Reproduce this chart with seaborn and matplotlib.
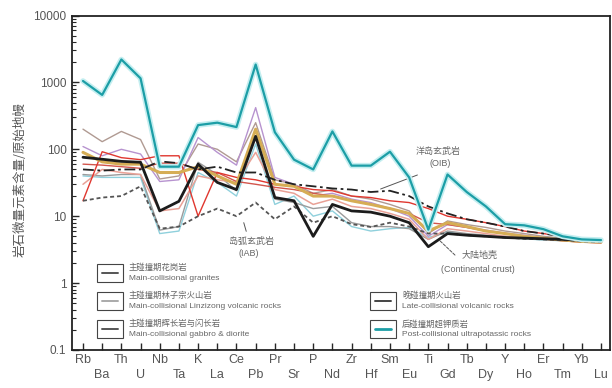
import numpy as np
import pandas as pd
import matplotlib
matplotlib.use("Agg")
import matplotlib.pyplot as plt
import seaborn as sns
from matplotlib.patches import Rectangle
from matplotlib.lines import Line2D

# Primitive-mantle normalised trace-element patterns
elements = ["Rb", "Ba", "Th", "U", "Nb", "Ta", "K", "La", "Ce", "Pb", "Pr", "Sr", "P", "Nd",
            "Zr", "Hf", "Sm", "Eu", "Ti", "Gd", "Tb", "Dy", "Y", "Ho", "Er", "Tm", "Yb", "Lu"]

post_collisional = [1050, 650, 2200, 1150, 55, 55, 230, 250, 215, 1850, 180, 70, 50, 185,
                    57, 57, 92, 38, 6.3, 42, 23, 14, 7.6, 7.3, 6.4, 5.0, 4.5, 4.4]
post_collisional_low = [40, 38, 38, 38, 5.5, 6, 45, 32, 20, 120, 15, 20, 10, 12,
                        7, 6, 6.5, 6.8, 4.8, 5.8, 5.2, 5.0, 4.8, 4.6, 4.4, 4.3, 4.2, 4.1]
continental_crust = [76, 71, 66, 64, 12, 16.7, 60, 32, 25, 156, 19, 17, 5, 15,
                     12, 11.5, 10, 8, 3.5, 5.5, 5.2, 5.0, 4.8, 4.7, 4.6, 4.5, 4.4, 4.3]
oib = [50, 48, 50, 50, 66, 62, 50, 55, 45, 45, 35, 30, 28, 26,
       25, 23, 24, 20, 14, 11, 9, 8, 7, 6, 5.5, 5, 4.6, 4.3]
iab = [17, 19, 20, 28, 6.5, 7, 10, 13, 10, 16, 9, 14, 8, 10,
       7.6, 6.9, 8, 7, 5.5, 5.5, 5.2, 5.0, 4.8, 4.6, 4.5, 4.4, 4.2, 4.1]
late_collisional = [17, 92, 75, 70, 80, 80, 10, 45, 38, 35, 30, 28, 25, 24,
                    20, 19, 17, 16, 13, 10, 9, 8, 7, 6, 5.5, 5, 4.5, 4.2]
late_collisional_low = [60, 58, 55, 52, 62, 62, 50, 45, 33, 30, 27, 25, 22, 20,
                        17, 15, 13, 11, 8, 7.5, 6.8, 6, 5.5, 5, 4.6, 4.3, 4.1, 4.0]
granite_upper = [200, 130, 185, 140, 36, 40, 120, 100, 65, 250, 35, 30, 22, 25,
                 20, 18, 15, 12, 5.5, 8.5, 7.5, 6.8, 6, 5.5, 5, 4.7, 4.4, 4.2]
linzizong_upper = [110, 80, 100, 85, 33, 35, 150, 90, 58, 420, 38, 30, 20, 22,
                   18, 16, 13, 10, 5, 7.5, 6.8, 6.2, 5.6, 5.2, 4.8, 4.5, 4.2, 4.0]
linzizong_lower = [30, 50, 45, 42, 12, 13, 40, 35, 32, 90, 25, 22, 15, 18,
                   14, 13, 11, 9, 4.5, 6.5, 6, 5.5, 5, 4.7, 4.5, 4.3, 4.1, 4.0]
gabbro = [42, 40, 42, 42, 6.2, 7, 64, 42, 24, 156, 18, 16, 13, 14,
          8, 7, 7, 6.5, 4.5, 6, 5.5, 5.2, 5, 4.8, 4.6, 4.4, 4.2, 4.1]
granite_core = [90, 65, 60, 60, 45, 45, 55, 40, 30, 200, 30, 28, 20, 20,
                17, 15, 13, 11, 6, 8, 7, 6, 5.5, 5, 4.7, 4.4, 4.2, 4.1]

W, H = 612, 388
sns.set_theme(style="white")
plt.rcParams['font.family'] = ['Liberation Sans', 'Noto Sans CJK SC', 'DejaVu Sans']

fig = plt.figure(figsize=(W / 100, H / 100), dpi=100)
ax = fig.add_axes([72 / W, 1 - 350 / H, (610 - 72) / W, (350 - 15.5) / H])

idx = np.arange(len(elements))
series = [
    (granite_upper, "#b09a92", 1.0, "-", 2),
    (post_collisional_low, "#8fd0dc", 1.0, "-", 2),
    (gabbro, "#9b9b9b", 1.0, "-", 2),
    (linzizong_lower, "#e9a196", 1.1, "-", 2),
    (linzizong_upper, "#b793cf", 1.0, "-", 3),
    (late_collisional_low, "#d2554c", 1.0, "-", 3),
    (late_collisional, "#e0372f", 1.0, "-", 3),
    (granite_core, "#d6ad55", 2.2, "-", 3),
    (iab, "#555555", 1.3, (0, (2.2, 1.6)), 4),
    (oib, "#222222", 1.3, (0, (6, 2, 1.5, 2)), 4),
    (continental_crust, "#1c1c1c", 2.0, "-", 5),
]
for vals, col, lw, ls, z in series:
    df = pd.DataFrame({"x": idx, "v": vals})
    sns.lineplot(data=df, x="x", y="v", ax=ax, color=col, lw=lw, linestyle=ls,
                 zorder=z, legend=False, sort=False)

df_pc = pd.DataFrame({"x": idx, "v": post_collisional})
sns.lineplot(data=df_pc, x="x", y="v", ax=ax, color="#c4eef0", lw=4.0, zorder=6,
             legend=False, sort=False)
sns.lineplot(data=df_pc, x="x", y="v", ax=ax, color="#1c9ea6", lw=1.6, zorder=7,
             legend=False, sort=False)

ax.set_yscale("log")
ax.set_ylim(0.1, 10000)
ax.set_xlim((72 - 83) / 19.2, 27 + (610 - 601) / 19.2)
ax.set_xlabel("")
ax.set_ylabel("")

ax.set_yticks([0.1, 1, 10, 100, 1000, 10000])
ax.set_yticklabels(["0.1", "1", "10", "100", "1000", "10000"])
ax.tick_params(axis="y", which="major", direction="in", length=5, width=1.0,
               labelsize=8.5, labelcolor="#555555", left=True, pad=4)
ax.tick_params(axis="y", which="minor", direction="in", length=3, width=0.8, left=True)

even = idx[0::2]
odd = idx[1::2]
ax.set_xticks(even, labels=[elements[i] for i in even])
ax.set_xticks(odd, labels=[elements[i] for i in odd], minor=True)
ax.tick_params(axis="x", which="both", direction="in", length=5, width=1.0,
               labelsize=9, labelcolor="#555555", bottom=True)
ax.tick_params(axis="x", which="major", pad=3)
ax.tick_params(axis="x", which="minor", pad=14)

for sp in ax.spines.values():
    sp.set_visible(True)
    sp.set_color("#222222")
    sp.set_linewidth(1.3)

fig.text(20 / W, 1 - 180 / H, "岩石微量元素含量/原始地幔", rotation=90, ha="center",
         va="center", fontsize=9, color="#555555",
         family=["Noto Sans CJK SC", "DejaVu Sans"])


def fp(x, y):
    return (x / W, 1 - y / H)


# Reference curve annotations
ann = dict(fontsize=6.5, color="#666666", ha="center", va="center")
fig.text(*fp(438, 151), "洋岛玄武岩", **ann)
fig.text(*fp(440, 163), "(OIB)", **ann)
ax.annotate("", xy=fp(378, 190), xycoords="figure fraction", xytext=fp(420, 174),
            textcoords="figure fraction",
            arrowprops=dict(arrowstyle="-", color="#555555", lw=0.7))
fig.text(*fp(252, 241), "岛弧玄武岩", **ann)
fig.text(*fp(249, 253), "(IAB)", **ann)
ax.annotate("", xy=fp(243, 220), xycoords="figure fraction", xytext=fp(247, 234),
            textcoords="figure fraction",
            arrowprops=dict(arrowstyle="-", color="#555555", lw=0.7))
fig.text(*fp(480, 255), "大陆地壳", **ann)
fig.text(*fp(478, 270), "(Continental crust)", **ann)
ax.annotate("", xy=fp(437, 238), xycoords="figure fraction", xytext=fp(457, 257),
            textcoords="figure fraction",
            arrowprops=dict(arrowstyle="-", color="#555555", lw=0.7, ls=(0, (3, 1.5))))

# Legend boxes
legend_items = [
    (97, 264, "#555555", "主碰撞期花岗岩", "Main-collisional granites"),
    (97, 292, "#aaaaaa", "主碰撞期林子宗火山岩", "Main-collisional Linzizong volcanic rocks"),
    (97, 320, "#555555", "主碰撞期辉长岩与闪长岩", "Main-collisional gabbro & diorite"),
    (370, 292, "#444444", "晚碰撞期火山岩", "Late-collisional volcanic rocks"),
    (370, 320, "#1c9ea6", "后碰撞期超钾质岩", "Post-collisional ultrapotassic rocks"),
]
for x0, y0, col, zh, en in legend_items:
    bw, bh = 26, 18
    fig.patches.append(Rectangle(fp(x0, y0 + bh), bw / W, bh / H, transform=fig.transFigure,
                                 facecolor="white", edgecolor="#444444", lw=0.8, zorder=10))
    lw = 2.0 if col == "#1c9ea6" else 1.4
    fig.lines.append(Line2D([(x0 + 5) / W, (x0 + bw - 5) / W], [1 - (y0 + bh / 2) / H] * 2,
                            transform=fig.transFigure, color=col, lw=lw, zorder=11))
    fig.text(*fp(x0 + bw + 6, y0 + 4), zh, fontsize=6, color="#666666", ha="left", va="center",
             zorder=11)
    fig.text(*fp(x0 + bw + 6, y0 + 14), en, fontsize=6, color="#666666", ha="left",
             va="center", zorder=11)

fig.savefig("out.png", dpi=100)
